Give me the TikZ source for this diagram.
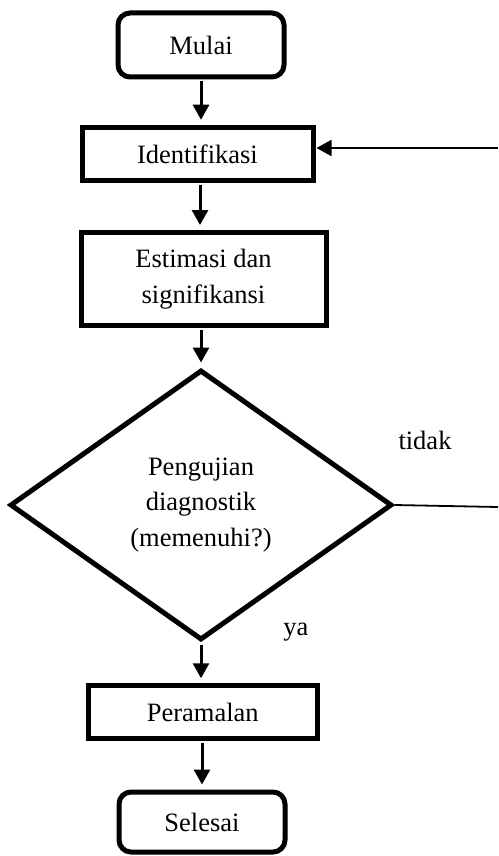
\documentclass[tikz,border=0pt]{standalone}
\usepackage{fontspec}
\setmainfont{Liberation Serif}
\usetikzlibrary{shapes.geometric,arrows.meta}
\begin{document}
\begin{tikzpicture}[x=1pt,y=-1pt,
  every node/.style={font=\fontsize{26.5}{35.5}\selectfont},
  term/.style={draw,line width=5pt,rounded corners=12pt,minimum width=166pt,inner sep=0pt,align=center},
  proc/.style={draw,line width=5pt,inner sep=0pt,align=center},
  dec/.style={draw,diamond,line width=5pt,inner sep=0pt,align=center,minimum width=382pt,minimum height=270pt},
  tip/.style={-{Triangle[width=16pt,length=15pt]}},
  flow/.style={line width=3pt,tip,shorten >=5pt,shorten <=2pt},
  back/.style={line width=1.8pt}]
\useasboundingbox (0,0) rectangle (498,856);
\node[term,minimum height=64pt] (mulai) at (201,45) {Mulai};
\node[proc,minimum width=231pt,minimum height=53.5pt] (ident) at (197.5,154) {Identifikasi};
\node[proc,minimum width=245pt,minimum height=93pt] (estim) at (203.5,279) {Estimasi dan\\signifikansi};
\node[dec] (diag) at (201,505) {Pengujian\\diagnostik\\(memenuhi?)};
\node[proc,minimum width=229.5pt,minimum height=52.5pt] (peram) at (202.75,712) {Peramalan};
\node[term,minimum height=60pt] (selesai) at (202,822) {Selesai};
\node (tidak) at (425,440) {tidak};
\node (ya) at (296,632) {ya};
\coordinate (r1) at (498,507);
\coordinate (r2) at (498,148);
\draw[flow] (mulai.south) -- (ident.north -| mulai.south);
\draw[flow] (ident.south -| 200,0) -- (estim.north -| 200,0);
\draw[flow] (estim.south -| 201,0) -- (diag.north);
\draw[flow] (diag.south) -- (peram.north -| diag.south);
\draw[flow] (peram.south -| selesai.north) -- (selesai.north);
\draw[back] (diag.east) -- (r1);
\draw[back,tip,shorten >=1pt] (r2) -- (r2 -| ident.east);
\end{tikzpicture}
\end{document}
